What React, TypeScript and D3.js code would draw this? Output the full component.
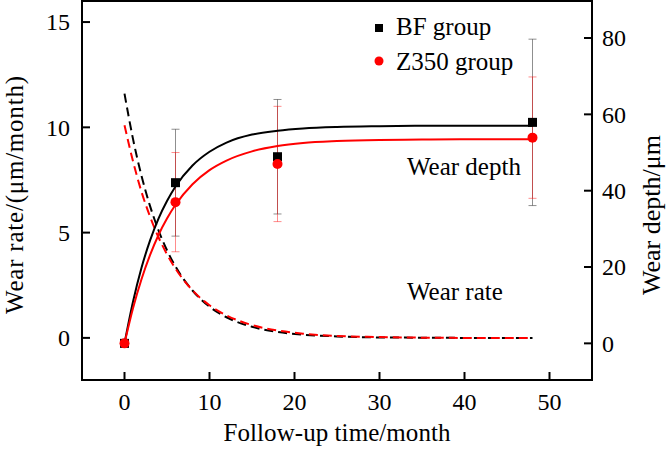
import * as d3 from 'd3';

// measured follow-up points (wear depth, µm)
const visitMonths = [0, 6, 18, 48];
const bfDepth = [0, 42.1, 48.9, 57.9];
const bfDepthErr = [0, 14.0, 15.0, 21.8];
const z350Depth = [0, 37.0, 47.0, 53.9];
const z350DepthErr = [0, 13.0, 15.1, 15.9];

// fitted curves
const curveMonths = [0, 1, 2, 3, 4, 5, 6, 8, 10, 12, 15, 18, 21, 25, 30, 35, 40, 48];
const bfDepthFit = [0, 10.9, 19.8, 26.9, 32.7, 37.3, 41.1, 46.6, 50.2, 52.6, 54.7, 55.7, 56.3, 56.7, 56.9, 57.0, 57.0, 57.0];
const z350DepthFit = [0, 9.2, 16.8, 23.1, 28.4, 32.7, 36.3, 41.7, 45.4, 47.9, 50.3, 51.7, 52.5, 53.0, 53.3, 53.4, 53.5, 53.5];
const bfRateFit = [11.6, 9.45, 7.7, 6.27, 5.11, 4.16, 3.39, 2.25, 1.48, 0.98, 0.53, 0.28, 0.15, 0.07, 0.02, 0.01, 0, 0];
const z350RateFit = [10.1, 8.39, 6.94, 5.77, 4.78, 3.97, 3.29, 2.26, 1.55, 1.07, 0.61, 0.35, 0.2, 0.09, 0.04, 0.01, 0, 0];

const xTicks = [0, 10, 20, 30, 40, 50];
const rateTicks = [0, 5, 10, 15];
const depthTicks = [0, 20, 40, 60, 80];

const W = 666;
const H = 450;
const plot = { left: 82, right: 592, top: 1, bottom: 380 };
const FONT = "'Liberation Serif', 'Times New Roman', serif";
const RED = '#ff0000';

export default function App() {
    const x = d3.scaleLinear().domain([-5, 55]).range([plot.left, plot.right]);
    const yRate = d3.scaleLinear().domain([-2, 16]).range([plot.bottom, plot.top]);
    const yDepth = d3.scaleLinear().domain([-9.6, 89.7]).range([plot.bottom, plot.top]);

    const depthLine = d3.line<number>()
        .x((_, i) => x(curveMonths[i]))
        .y(d => yDepth(d))
        .curve(d3.curveMonotoneX);
    const rateLine = d3.line<number>()
        .x((_, i) => x(curveMonths[i]))
        .y(d => yRate(d))
        .curve(d3.curveMonotoneX);

    const tick = 8;
    const tickTxt = { fontFamily: FONT, fontSize: 24 };
    const txt = { fontFamily: FONT, fontSize: 25 };

    const errorBars = (vals: number[], errs: number[], color: string, opacity: number) =>
        visitMonths.map((m, i) => {
            if (errs[i] === 0) return null;
            const cx = x(m);
            const y0 = yDepth(vals[i] - errs[i]);
            const y1 = yDepth(vals[i] + errs[i]);
            return (
                <g key={i} stroke={color} strokeOpacity={opacity} strokeWidth={1}>
                    <line x1={cx} x2={cx} y1={y0} y2={y1} />
                    <line x1={cx - 4} x2={cx + 4} y1={y0} y2={y0} />
                    <line x1={cx - 4} x2={cx + 4} y1={y1} y2={y1} />
                </g>
            );
        });

    return (
        <svg width={W} height={H} style={{ position: 'absolute', left: 0, top: 0, background: '#fff' }}>
            {/* error bars */}
            {errorBars(bfDepth, bfDepthErr, '#444', 0.6)}
            {errorBars(z350Depth, z350DepthErr, RED, 0.45)}

            {/* wear rate (dashed) */}
            <path d={rateLine(bfRateFit) || ''} fill="none" stroke="#000" strokeWidth={2} strokeDasharray="9,5" />
            <path d={rateLine(z350RateFit) || ''} fill="none" stroke={RED} strokeWidth={2} strokeDasharray="9,5" />

            {/* wear depth (solid) */}
            <path d={depthLine(bfDepthFit) || ''} fill="none" stroke="#000" strokeWidth={2} />
            <path d={depthLine(z350DepthFit) || ''} fill="none" stroke={RED} strokeWidth={2} />

            {/* markers */}
            {visitMonths.map((m, i) => (
                <rect key={'s' + i} x={x(m) - 4.5} y={yDepth(bfDepth[i]) - 4.5} width={9} height={9} fill="#000" />
            ))}
            {visitMonths.map((m, i) => (
                <circle key={'c' + i} cx={x(m)} cy={yDepth(z350Depth[i])} r={5} fill={RED} />
            ))}

            {/* frame */}
            <rect x={plot.left} y={plot.top} width={plot.right - plot.left} height={plot.bottom - plot.top}
                fill="none" stroke="#000" strokeWidth={2} />

            {/* x axis */}
            {xTicks.map(t => (
                <g key={'x' + t}>
                    <line x1={x(t)} x2={x(t)} y1={plot.bottom} y2={plot.bottom - tick} stroke="#000" strokeWidth={2} />
                    <text x={x(t)} y={410} textAnchor="middle" style={tickTxt}>{t}</text>
                </g>
            ))}
            <text x={(plot.left + plot.right) / 2} y={441} textAnchor="middle" style={txt}
                textLength={227} lengthAdjust="spacing">Follow-up time/month</text>

            {/* left axis: wear rate */}
            {rateTicks.map(t => (
                <g key={'l' + t}>
                    <line x1={plot.left} x2={plot.left + tick} y1={yRate(t)} y2={yRate(t)} stroke="#000" strokeWidth={2} />
                    <text x={70} y={yRate(t)} dy="0.35em" textAnchor="end" style={tickTxt}>{t}</text>
                </g>
            ))}
            <text transform="translate(23,195) rotate(-90)" textAnchor="middle" style={txt}
                textLength={238} lengthAdjust="spacing">Wear rate/(μm/month)</text>

            {/* right axis: wear depth */}
            {depthTicks.map(t => (
                <g key={'r' + t}>
                    <line x1={plot.right} x2={plot.right - tick} y1={yDepth(t)} y2={yDepth(t)} stroke="#000" strokeWidth={2} />
                    <text x={602} y={yDepth(t)} dy="0.35em" textAnchor="start" style={tickTxt}>{t}</text>
                </g>
            ))}
            <text transform="translate(660,215) rotate(-90)" textAnchor="middle"
                style={{ fontFamily: FONT, fontSize: 26 }}>Wear depth/μm</text>

            {/* curve labels */}
            <text x={407} y={175} style={txt}>Wear depth</text>
            <text x={407} y={300} style={txt}>Wear rate</text>

            {/* legend */}
            <rect x={375} y={24} width={8} height={8} fill="#000" />
            <text x={396} y={35} style={txt}>BF group</text>
            <circle cx={379} cy={61} r={4.5} fill={RED} />
            <text x={396} y={70} style={txt}>Z350 group</text>
        </svg>
    );
}
